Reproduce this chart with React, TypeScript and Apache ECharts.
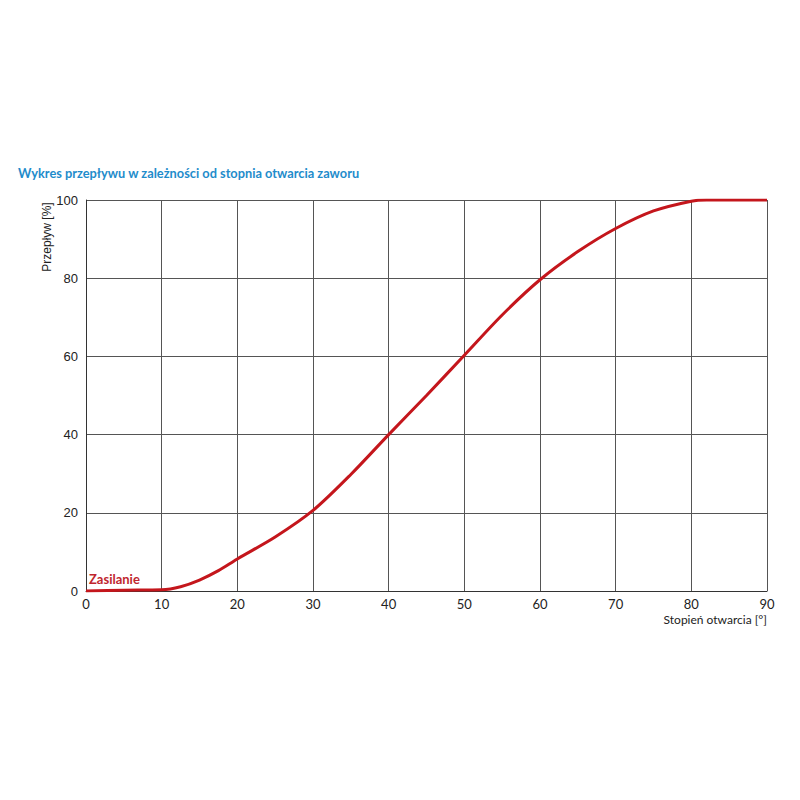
import React, { useEffect, useRef } from "react";
import * as echarts from "echarts";

const openingDeg = [0, 5, 10, 12.5, 15, 17.5, 20, 25, 30, 35, 40, 45, 50, 55, 60, 65, 70, 75, 80, 82, 90];
const flowPct = [0, 0.2, 0.3, 1.1, 2.8, 5.2, 8.2, 13.8, 20.6, 29.8, 40, 50, 60.3, 70.6, 79.6, 86.8, 92.7, 97.2, 99.7, 100, 100];
const xTicks = [0, 10, 20, 30, 40, 50, 60, 70, 80, 90];
const yTicks = [0, 20, 40, 60, 80, 100];

export default function App() {
  const ref = useRef<HTMLDivElement>(null);
  useEffect(() => {
    if (!ref.current) return;
    const chart = echarts.init(ref.current, null, { renderer: "svg" });
    const data = openingDeg.map((x, i) => [x, flowPct[i]]);
    chart.setOption({
      animation: false,
      backgroundColor: "#ffffff",
      grid: { left: 86, right: 33, top: 200, bottom: 209, containLabel: false },
      xAxis: {
        type: "value",
        min: xTicks[0],
        max: xTicks[xTicks.length - 1],
        interval: 10,
        axisLine: { show: true, lineStyle: { color: "#333", width: 1 } },
        axisTick: { show: false },
        axisLabel: { color: "#222", fontSize: 13, fontFamily: "Lato", margin: 6 },
        splitLine: { show: true, lineStyle: { color: "#555", width: 1 } },
      },
      yAxis: {
        type: "value",
        min: yTicks[0],
        max: yTicks[yTicks.length - 1],
        interval: 20,
        axisLine: { show: true, lineStyle: { color: "#333", width: 1 } },
        axisTick: { show: false },
        axisLabel: { color: "#222", fontSize: 13, fontFamily: "Liberation Sans", margin: 8 },
        splitLine: { show: true, lineStyle: { color: "#555", width: 1 } },
      },
      graphic: [
        {
          type: "text",
          left: 18,
          top: 166,
          style: {
            text: "Wykres przepływu w zależności od stopnia otwarcia zaworu",
            fill: "#1f8ccb",
            font: "bold 12.8px Lato",
          },
        },
        {
          type: "text",
          x: 47,
          y: 237,
          rotation: Math.PI / 2,
          style: {
            text: "Przepływ [%]",
            fill: "#222",
            font: "12px 'Liberation Sans'",
            align: "center",
            verticalAlign: "middle",
          },
        },
        {
          type: "text",
          x: 767,
          y: 619,
          style: {
            text: "Stopień otwarcia [°]",
            fill: "#222",
            font: "12px Lato",
            align: "right",
            verticalAlign: "middle",
          },
        },
        {
          type: "text",
          x: 89,
          y: 579,
          style: {
            text: "Zasilanie",
            fill: "#c0262d",
            font: "bold 13px Lato",
            align: "left",
            verticalAlign: "middle",
          },
        },
      ],
      series: [
        {
          type: "line",
          data,
          smooth: 0.3,
          showSymbol: false,
          lineStyle: { color: "#c4161c", width: 3 },
        },
      ],
    });
    return () => chart.dispose();
  }, []);
  return <div ref={ref} style={{ width: 800, height: 800, margin: -8 }} />;
}
